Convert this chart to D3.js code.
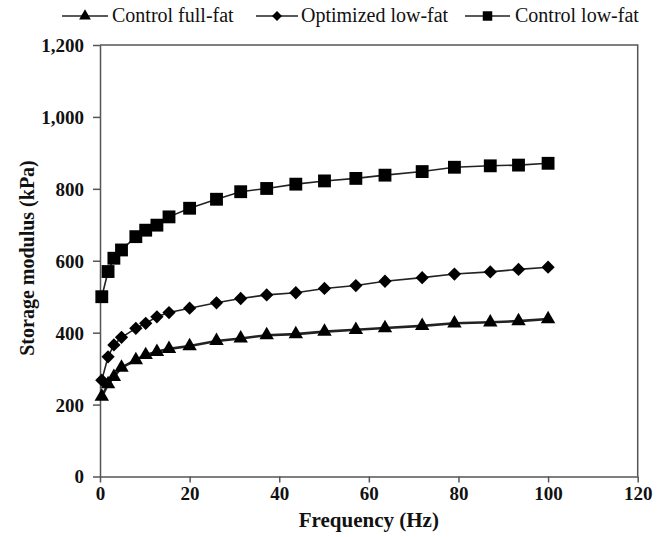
<!DOCTYPE html>
<html>
<head>
<meta charset="utf-8">
<script src="https://cdn.jsdelivr.net/npm/d3@7"></script>
<style>
  body { margin: 0; background: #fff; }
  svg text { font-family: "Liberation Serif", "DejaVu Serif", serif; }
</style>
</head>
<body>
<svg id="chart" width="665" height="537"></svg>
<script>
// frequency sweep (Hz)
var freq = [0.4, 1.8, 3.1, 4.8, 8, 10.2, 12.7, 15.4, 20, 26, 31.4, 37.2, 43.7, 50.1, 57.1, 63.6, 71.9, 79.1, 87.1, 93.4, 100];
// storage modulus (kPa)
var fullFat = [222, 257, 277, 303, 324, 338, 347, 355, 363, 377, 384, 393, 396, 403, 408, 413, 419, 426, 429, 432, 438];
var optLowFat = [268, 333, 366, 387, 412, 426, 444, 456, 468, 483, 495, 505, 511, 523, 531, 543, 553, 563, 569, 576, 582];
var ctrlLowFat = [500, 570, 607, 630, 667, 685, 699, 722, 746, 771, 792, 801, 813, 822, 829, 838, 848, 860, 864, 866, 871];
var seriesNames = ["Control full-fat", "Optimized low-fat", "Control low-fat"];
var xTicks = [0, 20, 40, 60, 80, 100, 120];
var yTicks = [0, 200, 400, 600, 800, 1000, 1200];

(function () {
var serif = "'Liberation Serif', serif";
var svg = d3.select("#chart");
var pLeft = 100, pRight = 637.7, pTop = 45, pBottom = 476.5;

var x = d3.scaleLinear().domain([0, 120]).range([pLeft, pRight]);
var y = d3.scaleLinear().domain([0, 1200]).range([pBottom, pTop]);

var axisColor = "#555";

// frame (top + right)
svg.append("path")
    .attr("d", "M" + pLeft + "," + pTop + "H" + pRight + "V" + pBottom)
    .attr("fill", "none")
    .attr("stroke", axisColor)
    .attr("stroke-width", 1.5);

var gx = svg.append("g")
    .attr("transform", "translate(0," + pBottom + ")")
    .call(d3.axisBottom(x).tickValues(xTicks).tickSize(6).tickSizeOuter(0).tickPadding(4));
var gy = svg.append("g")
    .attr("transform", "translate(" + pLeft + ",0)")
    .call(d3.axisLeft(y).tickValues(yTicks).tickFormat(d3.format(",")).tickSize(7).tickSizeOuter(0).tickPadding(9));

[gx, gy].forEach(function (g) {
    g.selectAll("path, line").attr("stroke", axisColor).attr("stroke-width", 1.5);
    g.selectAll("text")
        .attr("fill", "#111")
        .style("font-family", serif)
        .style("font-weight", "bold")
        .style("font-size", "19px");
});
gy.selectAll("text").attr("dy", "0.34em");

svg.append("text")
    .attr("x", (pLeft + pRight) / 2).attr("y", 527)
    .attr("text-anchor", "middle")
    .style("font-family", serif)
    .style("font-weight", "bold").style("font-size", "21px")
    .attr("fill", "#111")
    .text("Frequency (Hz)");

svg.append("text")
    .attr("transform", "translate(34,258) rotate(-90)")
    .attr("text-anchor", "middle")
    .style("font-family", serif)
    .style("font-weight", "bold").style("font-size", "20px")
    .attr("fill", "#111")
    .text("Storage modulus (kPa)");

// marker shapes: triangle, diamond (rotated square), square
var symbols = [d3.symbolTriangle, d3.symbolSquare, d3.symbolSquare];
var symSizes = [90, 88, 165];
var symRotate = [0, 45, 0];
var lineWidths = [2.6, 1.6, 1.6];
var allSeries = [fullFat, optLowFat, ctrlLowFat];

var line = d3.line()
    .x(function (d) { return x(d[0]); })
    .y(function (d) { return y(d[1]); });

allSeries.forEach(function (vals, i) {
    var pts = freq.map(function (f, j) { return [f, vals[j]]; });
    svg.append("path")
        .datum(pts)
        .attr("d", line)
        .attr("fill", "none")
        .attr("stroke", "#222")
        .attr("stroke-width", lineWidths[i]);
    var sym = d3.symbol().type(symbols[i]).size(symSizes[i]);
    svg.selectAll("path.m" + i)
        .data(pts)
        .enter()
        .append("path")
        .attr("class", "m" + i)
        .attr("transform", function (d) {
            return "translate(" + x(d[0]) + "," + y(d[1]) + ") rotate(" + symRotate[i] + ")";
        })
        .attr("d", sym)
        .attr("fill", "#000");
});

// legend
var legendX = [62, 256, 465];
var legendW = [46, 42, 45];
var legendTextX = [112, 301, 515];
var legendY = 16;
var legendSizes = [60, 50, 90];
seriesNames.forEach(function (name, i) {
    var g = svg.append("g");
    g.append("line")
        .attr("x1", legendX[i]).attr("x2", legendX[i] + legendW[i])
        .attr("y1", legendY).attr("y2", legendY)
        .attr("stroke", "#222").attr("stroke-width", 1.6);
    g.append("path")
        .attr("transform", "translate(" + (legendX[i] + legendW[i] / 2) + "," + legendY + ") rotate(" + symRotate[i] + ")")
        .attr("d", d3.symbol().type(symbols[i]).size(legendSizes[i]))
        .attr("fill", "#000");
    g.append("text")
        .attr("x", legendTextX[i]).attr("y", legendY + 6)
        .style("font-family", serif)
        .style("font-size", "20px")
        .attr("fill", "#111")
        .text(name);
});
})();
</script>
</body>
</html>
